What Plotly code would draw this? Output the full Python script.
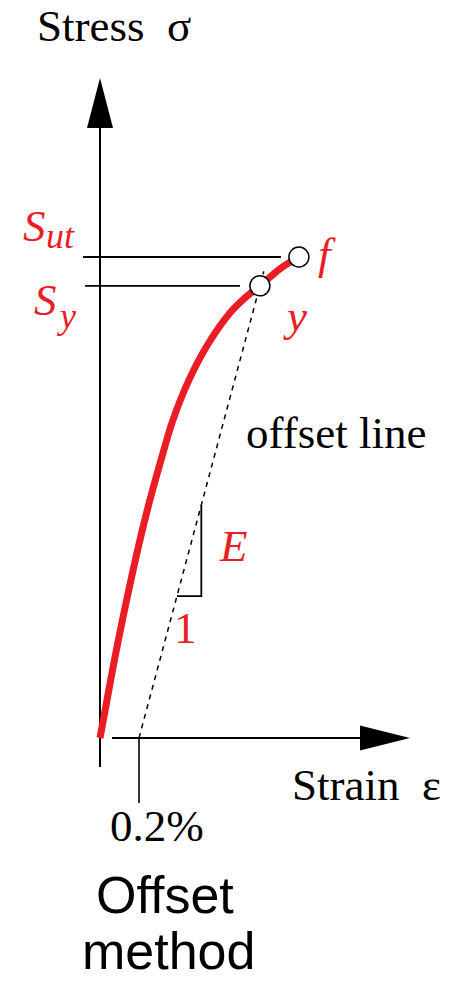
import plotly.graph_objects as go

W, H = 452, 981

# Stress–strain curve: strain in %, stress normalised so that S_ut = 100
strain = [0, 0.036, 0.074, 0.115, 0.159, 0.205, 0.256, 0.313, 0.374, 0.456, 0.551, 0.667, 0.738, 0.82, 0.928, 1.02]
stress = [0, 7.9, 16.2, 24.5, 32.9, 41.2, 49.5, 57.8, 66.1, 74.4, 81.7, 88.4, 91.3, 94, 97.7, 100]

yield_pt = (0.82, 94)      # y : yield point, S_y
fracture_pt = (1.02, 100)  # f : fracture point, S_ut
offset = 0.2               # offset strain, %
offset_top = 97            # stress at which the dashed offset line stops
tri_base = 29.5            # stress at the foot of the slope triangle
tri_run = 0.125            # horizontal leg of the slope triangle (strain %)

# Page layout: strain 0 / stress 0 sit where the two arrows meet
x_per_px = 1 / 195
y_per_px = 1 / 4.81
x0_px, y0_px = 100, 738

def X(px):
    """horizontal page pixel -> strain"""
    return (px - x0_px) * x_per_px

def Y(py):
    """vertical page pixel -> stress"""
    return (y0_px - py) * y_per_px

def dx(px):
    return px * x_per_px

def dy(px):
    return px * y_per_px

x_range = [X(0), X(W)]
y_range = [Y(H), Y(0)]

RED = "#ea1d26"
SERIF = "Liberation Serif, Times New Roman, serif"
SANS = "Liberation Sans, Arial, sans-serif"

E = yield_pt[1] / (yield_pt[0] - offset)

fig = go.Figure()

# stress axis with arrowhead
y_axis_bottom, y_axis_top, y_tip = Y(767), Y(128), Y(78)
fig.add_trace(go.Scatter(x=[0, 0], y=[y_axis_bottom, y_axis_top], mode="lines",
                         line=dict(color="black", width=2), hoverinfo="skip"))
fig.add_shape(type="path", xref="x", yref="y", line=dict(width=0), fillcolor="black",
              path=f"M {-dx(13)},{y_axis_top} L 0,{y_tip} L {dx(13)},{y_axis_top} Z")

# strain axis with arrowhead
x_axis_left, x_axis_right, x_tip = X(112), X(360), X(410)
fig.add_trace(go.Scatter(x=[x_axis_left, x_axis_right], y=[0, 0], mode="lines",
                         line=dict(color="black", width=2), hoverinfo="skip"))
fig.add_shape(type="path", xref="x", yref="y", line=dict(width=0), fillcolor="black",
              path=f"M {x_axis_right},{dy(12.5)} L {x_tip},0 L {x_axis_right},{-dy(12.5)} Z")

# 0.2 % tick below the strain axis
fig.add_trace(go.Scatter(x=[offset, offset], y=[0, -dy(65)], mode="lines",
                         line=dict(color="black", width=1.6), hoverinfo="skip"))

# S_ut and S_y reference lines
fig.add_trace(go.Scatter(x=[-dx(17), fracture_pt[0] - dx(18)], y=[fracture_pt[1]] * 2,
                         mode="lines", line=dict(color="black", width=1.8), hoverinfo="skip"))
fig.add_trace(go.Scatter(x=[-dx(15), yield_pt[0] - dx(20)], y=[yield_pt[1]] * 2,
                         mode="lines", line=dict(color="black", width=1.8), hoverinfo="skip"))

# dashed offset line, parallel to the elastic slope
fig.add_trace(go.Scatter(x=[offset, offset + offset_top / E], y=[0, offset_top], mode="lines",
                         line=dict(color="black", width=1.5, dash="5px,5px"), hoverinfo="skip"))

# slope triangle
tx0 = offset + tri_base / E
fig.add_trace(go.Scatter(x=[tx0, tx0 + tri_run, tx0 + tri_run],
                         y=[tri_base, tri_base, tri_base + E * tri_run], mode="lines",
                         line=dict(color="black", width=1.8), hoverinfo="skip"))

# stress–strain curve
fig.add_trace(go.Scatter(x=strain, y=stress, mode="lines", line_shape="spline",
                         line=dict(color=RED, width=7, smoothing=1), hoverinfo="skip"))

# yield and fracture markers
fig.add_trace(go.Scatter(x=[yield_pt[0], fracture_pt[0]], y=[yield_pt[1], fracture_pt[1]],
                         mode="markers", hoverinfo="skip",
                         marker=dict(symbol="circle", size=20, color="white",
                                     line=dict(color="black", width=1.5))))

def label(text, px, py, size=45, color="black", family=SERIF, italic=False):
    fig.add_annotation(text=f"<i>{text}</i>" if italic else text,
                       xref="paper", yref="paper", x=px / W, y=1 - py / H,
                       xanchor="center", yanchor="middle", showarrow=False,
                       font=dict(size=size, color=color, family=family))

label("Stress&nbsp;&nbsp;σ", 114, 26)
label("Strain&nbsp;&nbsp;ε", 366, 785)
label("0.2%", 157, 826)
label("offset line", 336, 433)
label("E", 233, 546, color=RED, italic=True)
label("1", 185, 628, color=RED)
label("f", 327, 254, color=RED, italic=True)
label("y", 295, 316, color=RED, italic=True)
label("S", 34, 226, color=RED, italic=True)
label("ut", 61, 236, size=36, color=RED, italic=True)
label("S", 45, 300, color=RED, italic=True)
label("y", 66, 316, size=36, color=RED, italic=True)
label("Offset", 165, 895, size=52, family=SANS)
label("method", 168, 951, size=52, family=SANS)

fig.update_layout(
    width=W, height=H, margin=dict(l=0, r=0, t=0, b=0),
    paper_bgcolor="white", plot_bgcolor="white", showlegend=False,
    xaxis=dict(range=x_range, visible=False, fixedrange=True),
    yaxis=dict(range=y_range, visible=False, fixedrange=True),
)

fig.write_html("out.html")
